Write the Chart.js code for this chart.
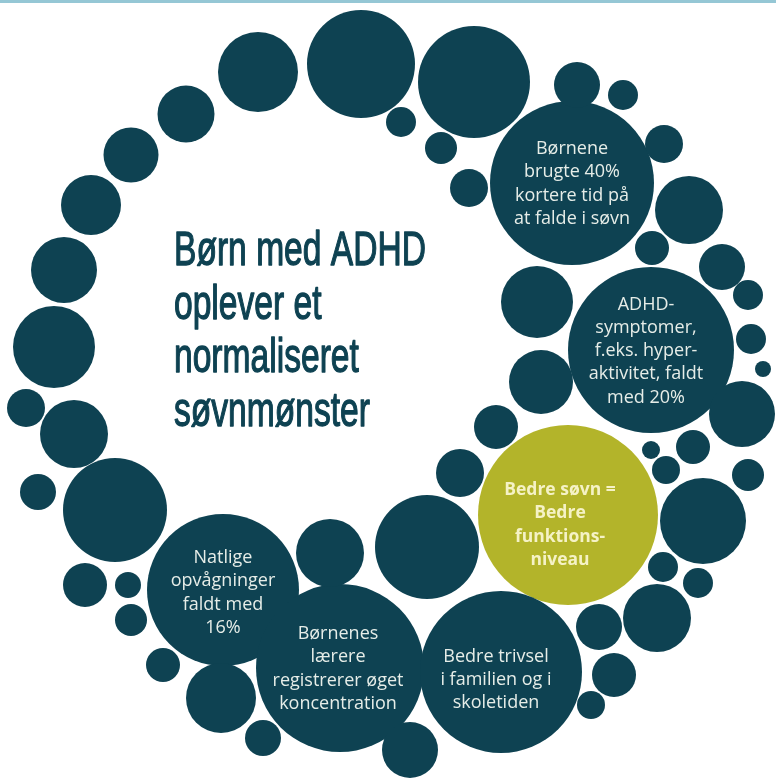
<!DOCTYPE html>
<html><head><meta charset="utf-8">
<script src="https://cdn.jsdelivr.net/npm/chart.js@4.4.1/dist/chart.umd.min.js"></script>
<style>html,body{margin:0;padding:0;background:#fff;overflow:hidden}canvas{display:block}</style>
</head><body>
<canvas id="c" width="776" height="779"></canvas>
<script>
// decorative dots of the ring (x, y, radius)
const dotX = [361, 474, 258, 186, 131, 91, 64, 54, 26, 74, 38, 115, 85, 128, 131, 163, 221, 263, 330, 410, 427,
              591, 614, 599, 657, 663, 698, 703, 748, 666, 693, 651, 742, 763, 751, 748, 722, 689, 664, 623, 577,
              469, 441, 401, 652, 537, 541, 496, 460];
const dotY = [64, 82, 72, 114, 155, 205, 270, 347, 408, 434, 492, 510, 585, 585, 620, 665, 698, 738, 553, 750, 547,
              705, 675, 627, 618, 567, 583, 521, 475, 470, 447, 450, 414, 369, 339, 295, 267, 210, 144, 95, 85,
              188, 148, 122, 248, 302, 382, 427, 473];
const dotR = [54, 56, 40, 28.5, 27.5, 30, 33, 41, 19, 34, 18, 52, 22, 13, 16, 17, 35, 18, 34, 28, 52,
              14, 22, 23, 34, 15, 15, 43, 16, 14, 17, 9, 33, 8, 15, 15, 23, 34, 19, 15, 23,
              19, 16, 15, 17, 36, 32, 22, 24];

// statement bubbles
const bubbleX = [572, 651, 223, 340, 501];
const bubbleY = [183, 350, 590, 668, 672];
const bubbleR = [82, 83, 76, 84, 81];
const bubbleText = [
  ["Børnene", "brugte 40%", "kortere tid på", "at falde i søvn"],
  ["ADHD-", "symptomer,", "f.eks. hyper-", "aktivitet, faldt", "med 20%"],
  ["Natlige", "opvågninger", "faldt med", "16%"],
  ["Børnenes", "lærere", "registrerer øget", "koncentration"],
  ["Bedre trivsel", "i familien og i", "skoletiden"]
];

// highlighted bubble
const highlightX = [568];
const highlightY = [515];
const highlightR = [90];
const highlightText = [["Bedre søvn =", "Bedre", "funktions-", "niveau"]];

// headline
const titleLines = ["Børn med ADHD", "oplever et", "normaliseret", "søvnmønster"];

const DARK = '#0e4252';
const YELLOW = '#b3b42a';
const LIGHT_TEXT = '#e6ede8';
const YELLOW_TEXT = '#f5f2c6';

// text offsets relative to each bubble centre (px)
const textShift = [[0, 1], [-5, 1], [0, 3], [-2, 1], [-5, 8]];
const highlightShift = [[-8, 10]];

function pts(xs, ys, rs) { return xs.map((v, i) => ({ x: v, y: ys[i], r: rs[i] })); }

const textPlugin = {
  id: 'texts',
  beforeDraw(chart) {
    const c = chart.ctx;
    c.save();
    c.fillStyle = '#95c7d5';
    c.fillRect(0, 0, chart.width, 3);
    c.restore();
  },
  afterDatasetsDraw(chart) {
    const c = chart.ctx, xs = chart.scales.x, ys = chart.scales.y;
    const lh = 23.3;
    function block(lines, x, y, dx, dy, font, color) {
      const px = xs.getPixelForValue(x) + dx, py = ys.getPixelForValue(y) + dy;
      c.save();
      c.font = font; c.fillStyle = color; c.textAlign = 'center'; c.textBaseline = 'middle';
      const top = py - (lines.length - 1) * lh / 2;
      lines.forEach((t, i) => c.fillText(t, px, top + i * lh));
      c.restore();
    }
    bubbleText.forEach((lines, i) => block(lines, bubbleX[i], bubbleY[i], textShift[i][0], textShift[i][1],
      '18px "Open Sans", sans-serif', LIGHT_TEXT));
    highlightText.forEach((lines, i) => block(lines, highlightX[i], highlightY[i], highlightShift[i][0], highlightShift[i][1],
      'bold 17.5px "Open Sans", sans-serif', YELLOW_TEXT));

    // headline: condensed face
    c.save();
    c.font = '49px "Liberation Sans Narrow", "Liberation Sans", sans-serif';
    c.fillStyle = DARK; c.strokeStyle = DARK; c.lineWidth = 1.3; c.lineJoin = 'round';
    c.textAlign = 'left'; c.textBaseline = 'alphabetic';
    const w = c.measureText(titleLines[0]).width;
    const sx = 252 / w;
    const tx = xs.getPixelForValue(174);
    titleLines.forEach((t, i) => {
      const ty = ys.getPixelForValue(265 + i * 53.5);
      c.save(); c.translate(tx, ty); c.scale(sx, 1); c.fillText(t, 0, 0); c.strokeText(t, 0, 0); c.restore();
    });
    c.restore();
  }
};

new Chart(document.getElementById('c').getContext('2d'), {
  type: 'bubble',
  data: {
    datasets: [
      { data: pts(dotX, dotY, dotR), backgroundColor: DARK, borderWidth: 0, hoverBorderWidth: 0, hoverRadius: 0, clip: false },
      { data: pts(bubbleX, bubbleY, bubbleR), backgroundColor: DARK, borderWidth: 0, hoverBorderWidth: 0, hoverRadius: 0, clip: false },
      { data: pts(highlightX, highlightY, highlightR), backgroundColor: YELLOW, borderWidth: 0, hoverBorderWidth: 0, hoverRadius: 0, clip: false }
    ]
  },
  options: {
    responsive: false,
    animation: false,
    events: [],
    layout: { padding: 0, autoPadding: false },
    plugins: { legend: { display: false }, tooltip: { enabled: false } },
    scales: {
      x: { type: 'linear', min: 0, max: 776, display: false },
      y: { type: 'linear', min: 0, max: 779, reverse: true, display: false }
    }
  },
  plugins: [textPlugin]
});
</script>
</body></html>
